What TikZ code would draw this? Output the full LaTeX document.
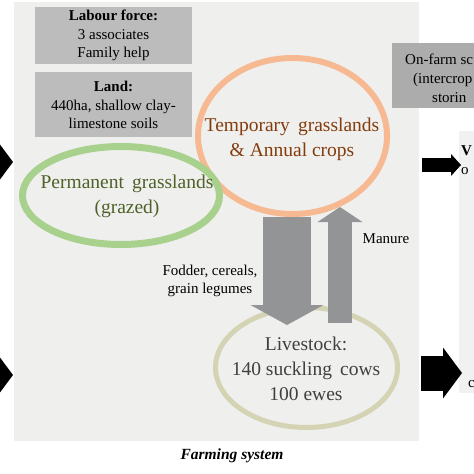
\documentclass[tikz,border=0pt]{standalone}
\usepackage{fontspec}
\setmainfont{Liberation Serif}
\usetikzlibrary{positioning,shapes.geometric,arrows.meta}
\definecolor{sysbg}{RGB}{239,239,238}
\definecolor{boxgrey}{RGB}{188,188,188}
\definecolor{scalegrey}{RGB}{172,172,172}
\definecolor{outbg}{RGB}{241,241,241}
\definecolor{flowgrey}{RGB}{147,148,150}
\definecolor{permline}{RGB}{169,209,142}
\definecolor{permtext}{RGB}{79,98,40}
\definecolor{templine}{RGB}{247,185,145}
\definecolor{temptext}{RGB}{132,60,12}
\definecolor{stockline}{RGB}{212,212,180}
\definecolor{stocktext}{RGB}{64,64,64}
\begin{document}
\begin{tikzpicture}[x=1pt,y=-1pt,
infobox/.style={fill=boxgrey,minimum width=157pt,inner sep=0pt,align=center,
    font=\fontsize{15}{18.5}\selectfont},
landuse/.style={ellipse,inner sep=0pt},
landtext/.style={align=center,inner sep=0pt,font=\fontsize{19.5}{25}\selectfont},
flowlabel/.style={align=center,inner sep=0pt,font=\fontsize{15}{18}\selectfont},
edgetext/.style={anchor=base west,inner sep=0pt,font=\fontsize{15}{18}\selectfont},
fatarrow/.style n args={3}{line width=#1pt,
    -{Triangle[width=#2pt,length=#3pt,line width=0pt]}}]
\clip (0,0) rectangle (474,474);
\fill[white] (0,0) rectangle (474,474);
\fill[sysbg] (14,2) rectangle (419,441);
\fill[outbg] (459,131) rectangle (480,393);

% resources
\node (labour) [infobox,minimum height=57pt] at (113.5,35.5)
    {\textbf{Labour force:}\\ 3 associates\\ Family help};
\node (land) [infobox,minimum height=65pt,below=8pt of labour]
    {\textbf{Land:}\\ 440ha, shallow clay-\\ limestone soils};
\node (scale) [fill=scalegrey,minimum width=90pt,minimum height=65pt,
    inner sep=0pt] at (437,75.5) {};
\node [edgetext] at (405,64) {On-farm sc};
\node [edgetext] at (413,83) {(intercrop};
\node [edgetext] at (432,102) {storin};
\node [edgetext] at (461,155) {\textbf{V}};
\node [edgetext] at (461,174) {o};
\node [edgetext] at (468,387) {c};

% land uses and herd
\node (tempg) [landuse,draw=templine,line width=6pt,
    minimum width=189pt,minimum height=156pt] at (292.5,136) {};
\node (permg) [landuse,draw=permline,line width=7pt,
    minimum width=197pt,minimum height=98pt] at (121,195.5) {};
\node (stock) [landuse,draw=stockline,line width=5pt,
    minimum width=182pt,minimum height=120pt] at (306.5,367.5) {};
\node (temptxt) [landtext,text=temptext] at (292,139.5)
    {Temporary\, grasslands\\ \& Annual crops};
\node (permtxt) [landtext,text=permtext] at (127,196.5)
    {Permanent\, grasslands\\ (grazed)};
\node (stocktxt) [landtext,text=stocktext] at (306,368.5)
    {Livestock:\\ 140 suckling\, cows\\ 100 ewes};

% flows
\coordinate (fodtop) at (287,217);
\coordinate (fodtip) at (287,325);
\coordinate (manbot) at (340,323);
\coordinate (mantip) at (340,207);
\draw[flowgrey,fatarrow={48}{73}{20}] (fodtop) -- (fodtip);
\draw[flowgrey,fatarrow={24}{45}{15}] (manbot) -- (mantip);
\node (fodder) [flowlabel] at (210,281) {Fodder, cereals,\\ grain legumes};
\node (manure) [flowlabel] at (386,239) {Manure};

% inputs and outputs
\coordinate (intop) at (-30,162);
\coordinate (inbot) at (-30,375);
\coordinate (outtop) at (422,165);
\coordinate (outbot) at (421,373);
\draw[black,fatarrow={35}{51}{19}] (intop) -- (13,162);
\draw[black,fatarrow={35}{51}{19}] (inbot) -- (13,375);
\draw[black,fatarrow={14}{22}{10}] (outtop) -- (461,165);
\draw[black,fatarrow={35}{51}{19}] (outbot) -- (462,373);

\node (farm) [font=\fontsize{15.5}{18}\selectfont\bfseries\itshape] at (232,456)
    {Farming system};
\end{tikzpicture}
\end{document}
